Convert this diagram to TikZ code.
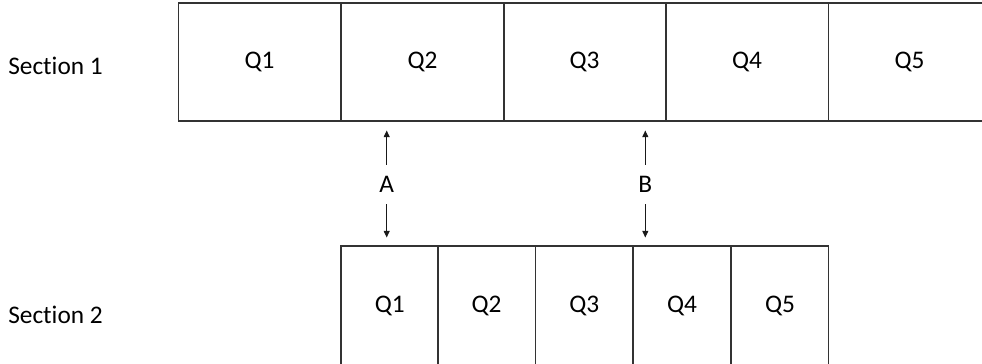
\documentclass[tikz,border=0pt]{standalone}
\usepackage{fontspec}
\setmainfont[Ligatures=NoCommon]{Carlito}
\usetikzlibrary{arrows.meta}
\begin{document}
\begin{tikzpicture}[x=0.75pt,y=-0.75pt,
  cell/.style={draw=black!80,line width=0.8pt,inner sep=0pt,font=\fontsize{19}{22}\selectfont},
  topcell/.style={cell,minimum width=122.2pt,minimum height=88.5pt},
  botcell/.style={cell,minimum width=73.2pt,minimum height=90pt},
  lbl/.style={font=\fontsize{19}{22}\selectfont,inner sep=0pt},
  arr/.style={line width=0.7pt,draw=black!90,-{Triangle[width=4.5pt,length=5pt]}}]
\useasboundingbox (0,0) rectangle (982,364);
\clip (0,0) rectangle (982,364);
\node[lbl,anchor=west] (s1) at (8,66) {Section 1};
\node[lbl,anchor=west] (s2) at (8,315) {Section 2};
\node[topcell] (t1) at (259.5,62) {Q1};
\node[topcell] (t2) at (422.5,62) {Q2};
\node[topcell] (t3) at (584.5,62) {Q3};
\node[topcell] (t4) at (747,62) {Q4};
\node[topcell] (t5) at (909.5,62) {Q5};
\node[botcell] (b1) at (389.8,306) {Q1};
\node[botcell] (b2) at (486.6,306) {Q2};
\node[botcell] (b3) at (584.2,306) {Q3};
\node[botcell] (b4) at (682,306) {Q4};
\node[botcell] (b5) at (780,306) {Q5};
\node[lbl,minimum height=29.25pt] (A) at (386.7,184.5) {A};
\node[lbl,minimum height=29.25pt] (B) at (645.3,184.5) {B};
\coordinate (au) at (386.7,130.5);
\coordinate (ad) at (386.7,237.5);
\coordinate (bu) at (645.3,130.5);
\coordinate (bd) at (645.3,237.5);
\draw[arr] (A.north) -- (au);
\draw[arr] (A.south) -- (ad);
\draw[arr] (B.north) -- (bu);
\draw[arr] (B.south) -- (bd);
\end{tikzpicture}
\end{document}
